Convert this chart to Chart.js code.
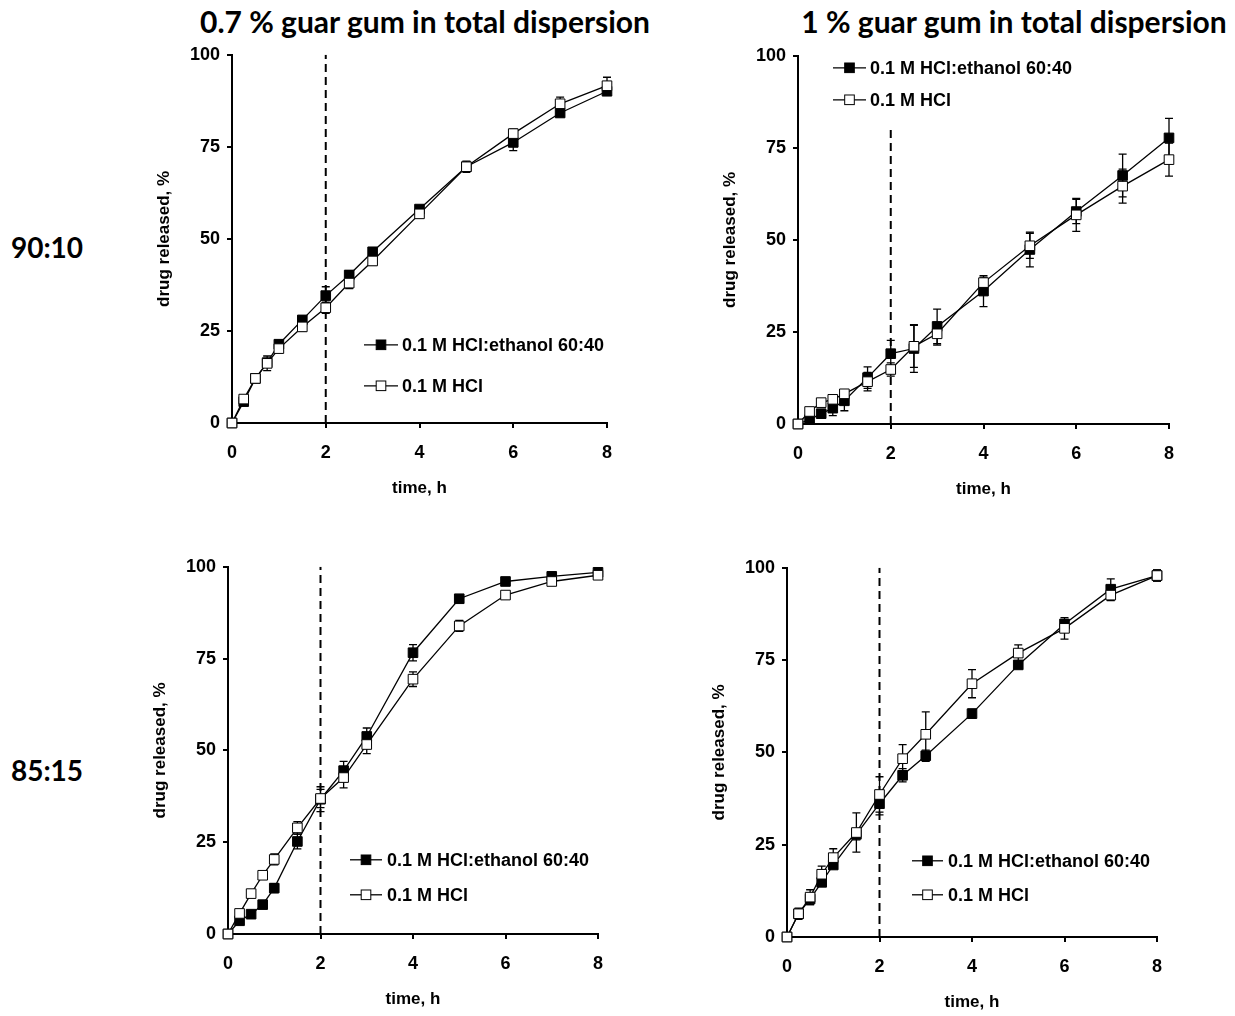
<!DOCTYPE html>
<html>
<head>
<meta charset="utf-8">
<script src="https://cdn.jsdelivr.net/npm/chart.js@4"></script>
<style>
  body { margin: 0; background: #fff; width: 1235px; height: 1016px; position: relative; overflow: hidden; }
  .painel { position: absolute; }
  .titulo { position: absolute; font-family: Lato, "Open Sans", sans-serif; font-weight: bold; font-size: 30px; color: #000; white-space: nowrap; transform: translate(-50%, -50%); }
  .linha { font-size: 28px; }
</style>
</head>
<body>
<div class="titulo" style="left:425px; top:21px;">0.7 % guar gum in total dispersion</div>
<div class="titulo" style="left:1014px; top:21px;">1 % guar gum in total dispersion</div>
<div class="titulo linha" style="left:47px; top:247px;">90:10</div>
<div class="titulo linha" style="left:47px; top:770px;">85:15</div>

<canvas id="gA" class="painel"></canvas>
<canvas id="gB" class="painel"></canvas>
<canvas id="gC" class="painel"></canvas>
<canvas id="gD" class="painel"></canvas>

<script>
// Dados (tempo em horas, liberação em %)
const tempoH = [0, 0.25, 0.5, 0.75, 1, 1.5, 2, 2.5, 3, 4, 5, 6, 7, 8];
const rotulos = ['0.1 M HCl:ethanol 60:40', '0.1 M HCl'];
const ticksX = [0, 2, 4, 6, 8];
const ticksY = [0, 25, 50, 75, 100];

// 0.7 % guar gum, 90:10
const a_etanol = [0, 5.8, 12.1, 16.4, 21.4, 28.0, 34.6, 40.2, 46.5, 58.1, 69.6, 76.2, 84.2, 90.1];
const a_etanolErro = [0, 0.5, 0.8, 1, 1, 1, 2.4, 1.2, 1, 0.8, 1, 2.2, 1, 1];
const a_hcl = [0, 6.5, 12.1, 16.2, 20.2, 26.1, 31.3, 38.0, 44.0, 56.8, 69.6, 78.6, 86.7, 91.6];
const a_hclErro = [0, 0.8, 1, 2, 1, 1.2, 1.5, 1.5, 1.2, 1, 1.5, 1.2, 1.8, 2.3];

// 1 % guar gum, 90:10
const b_etanol = [0, 1.2, 2.8, 4.3, 6.3, 12.6, 19.1, 20.5, 26.5, 36.1, 47.4, 57.7, 67.5, 77.7];
const b_etanolErro = [0, 0.8, 1, 2, 2.7, 2.9, 3.6, 6.5, 4.7, 4.2, 4.7, 3.3, 5.8, 5.3];
const b_hcl = [0, 3.4, 5.8, 6.7, 8.2, 11.5, 14.8, 21.1, 24.5, 38.4, 48.4, 56.8, 64.6, 71.8];
const b_hclErro = [0, 0.8, 0.8, 1, 1, 2.5, 1.8, 5.7, 3.1, 1.5, 3.4, 4.5, 4.6, 4.5];

// 0.7 % guar gum, 85:15
const c_etanol = [0, 3.6, 5.4, 8.0, 12.5, 25.2, 36.7, 44.5, 53.8, 76.6, 91.3, 96.0, 97.4, 98.5];
const c_etanolErro = [0, 0.8, 0.8, 0.8, 1.2, 2, 3.4, 2.5, 2.3, 2.2, 0.8, 0.8, 0.8, 0.8];
const c_hcl = [0, 5.6, 11.0, 16.0, 20.3, 28.9, 36.9, 42.6, 51.6, 69.4, 83.9, 92.3, 96.0, 97.7];
const c_hclErro = [0, 0.8, 0.8, 0.8, 1.5, 1.7, 2.5, 2.8, 2.5, 2, 1.5, 0.8, 0.8, 0.8];

// 1 % guar gum, 85:15
const d_etanol = [0, 6.3, 10.3, 14.8, 19.5, 27.8, 36.1, 43.8, 49.1, 60.5, 73.7, 84.8, 94.2, 97.9];
const d_etanolErro = [0, 1, 1.5, 1, 1, 1.5, 3, 1.8, 1.5, 1.2, 1, 1, 2.8, 1.5];
const d_hcl = [0, 6.3, 10.8, 17.0, 21.5, 28.3, 38.6, 48.3, 54.9, 68.6, 76.9, 83.6, 92.6, 97.9];
const d_hclErro = [0, 1.5, 2, 2.2, 2.4, 5.3, 4.8, 3.8, 6.1, 3.8, 2.2, 2.9, 1.5, 1.5];

// linha tracejada em t = 2 h (topo em %)
const tracejadoX = 2;
const tracejadoTopo = { gA: 100, gB: 81, gC: 100, gD: 100 };

// área do gráfico em pixels da página e posição da legenda (relativa à área)
const paineis = [
  { id: 'gA', area: [232, 52, 607, 423], leg: [132, 166, 170, 290, 331], etanol: a_etanol, etanolErro: a_etanolErro, hcl: a_hcl, hclErro: a_hclErro },
  { id: 'gB', area: [798, 53, 1169, 424], leg: [35, 68, 72, 12, 44], etanol: b_etanol, etanolErro: b_etanolErro, hcl: b_hcl, hclErro: b_hclErro },
  { id: 'gC', area: [228, 564, 598, 934], leg: [122, 154, 159, 293, 328], etanol: c_etanol, etanolErro: c_etanolErro, hcl: c_hcl, hclErro: c_hclErro },
  { id: 'gD', area: [787, 565, 1157, 937], leg: [125, 156, 161, 293, 327], etanol: d_etanol, etanolErro: d_etanolErro, hcl: d_hcl, hclErro: d_hclErro }
];

const EIXO_Y = 78, EIXO_X = 76, PAD_TOPO = 15, PAD_DIR = 20;
const FONTE = "'Liberation Sans', Arial, sans-serif";
const RAIO = 6.8;

function pontos(valores) {
  return tempoH.map((t, i) => ({ x: t, y: valores[i] }));
}

// barras de erro desenhadas pelas escalas
const barrasErro = {
  id: 'barrasErro',
  beforeDatasetsDraw(chart) {
    const ctx = chart.ctx;
    const sx = chart.scales.x, sy = chart.scales.y;
    ctx.save();
    ctx.strokeStyle = '#000';
    ctx.lineWidth = 1.3;
    chart.data.datasets.forEach(ds => {
      if (!ds.erros) return;
      ds.data.forEach((p, i) => {
        const e = ds.erros[i];
        if (!e) return;
        const x = sx.getPixelForValue(p.x);
        const y1 = sy.getPixelForValue(p.y + e);
        const y2 = sy.getPixelForValue(p.y - e);
        ctx.beginPath();
        ctx.moveTo(x, y1); ctx.lineTo(x, y2);
        ctx.moveTo(x - 4, y1); ctx.lineTo(x + 4, y1);
        ctx.moveTo(x - 4, y2); ctx.lineTo(x + 4, y2);
        ctx.stroke();
      });
    });
    ctx.restore();
  }
};

// legenda dentro da área do gráfico
const legendaInterna = {
  id: 'legendaInterna',
  afterDatasetsDraw(chart, args, opts) {
    const ctx = chart.ctx;
    const a = chart.chartArea;
    const [x1, x2, xt, ya, yb] = opts.pos;
    ctx.save();
    ctx.font = 'bold 18px ' + FONTE;
    ctx.textBaseline = 'middle';
    rotulos.forEach((rot, i) => {
      const ds = chart.data.datasets.find(d => d.label === rot);
      const y = a.top + (i === 0 ? ya : yb);
      const xm = a.left + (x1 + x2) / 2;
      ctx.strokeStyle = '#000';
      ctx.lineWidth = 1.3;
      ctx.beginPath();
      ctx.moveTo(a.left + x1, y); ctx.lineTo(a.left + x2, y);
      ctx.stroke();
      const s = RAIO * Math.SQRT1_2;
      ctx.lineWidth = 1;
      ctx.fillStyle = ds.pointBackgroundColor;
      ctx.fillRect(xm - s, y - s, 2 * s, 2 * s);
      ctx.strokeRect(xm - s, y - s, 2 * s, 2 * s);
      ctx.fillStyle = '#000';
      ctx.fillText(rot, a.left + xt, y + 1);
    });
    ctx.restore();
  }
};

function criarGrafico(p) {
  const [L, T, R, B] = p.area;
  const canvas = document.getElementById(p.id);
  const w = (R - L) + EIXO_Y + PAD_DIR;
  const h = (B - T) + PAD_TOPO + EIXO_X;
  canvas.style.left = (L - EIXO_Y) + 'px';
  canvas.style.top = (T - PAD_TOPO) + 'px';
  canvas.style.width = w + 'px';
  canvas.style.height = h + 'px';
  canvas.width = w;
  canvas.height = h;

  const serie = (label, valores, erros, fundo) => ({
    label: label,
    data: pontos(valores),
    erros: erros,
    showLine: true,
    clip: false,
    borderColor: '#000',
    borderWidth: 1.3,
    pointStyle: 'rect',
    pointRadius: RAIO,
    pointHoverRadius: RAIO,
    pointBorderWidth: 1,
    pointBorderColor: '#000',
    pointBackgroundColor: fundo,
    backgroundColor: fundo
  });

  new Chart(canvas, {
    type: 'scatter',
    data: {
      datasets: [
        serie(rotulos[1], p.hcl, p.hclErro, '#fff'),
        serie(rotulos[0], p.etanol, p.etanolErro, '#000'),
        {
          label: 'tracejado',
          data: [{ x: tracejadoX, y: 0 }, { x: tracejadoX, y: tracejadoTopo[p.id] }],
          showLine: true,
          borderColor: '#000',
          borderWidth: 2,
          borderDash: [8, 5],
          pointRadius: 0
        }
      ]
    },
    options: {
      responsive: false,
      animation: false,
      events: [],
      layout: { padding: { top: PAD_TOPO, right: PAD_DIR, left: 0, bottom: 0 } },
      plugins: {
        legend: { display: false },
        tooltip: { enabled: false },
        legendaInterna: { pos: p.leg }
      },
      scales: {
        x: {
          type: 'linear', min: 0, max: 8,
          afterFit: s => { s.height = EIXO_X; },
          afterBuildTicks: s => { s.ticks = ticksX.map(v => ({ value: v })); },
          border: { display: true, color: '#000', width: 2 },
          grid: { drawOnChartArea: false, drawTicks: true, tickLength: 5, color: '#000', lineWidth: 2 },
          ticks: { color: '#000', padding: 14, font: { family: FONTE, size: 18, weight: 'bold' } },
          title: { display: true, text: 'time, h', color: '#000', padding: 0, font: { family: FONTE, size: 17, weight: 'bold' } }
        },
        y: {
          type: 'linear', min: 0, max: 100,
          afterFit: s => { s.width = EIXO_Y; },
          afterBuildTicks: s => { s.ticks = ticksY.map(v => ({ value: v })); },
          border: { display: true, color: '#000', width: 2 },
          grid: { drawOnChartArea: false, drawTicks: true, tickLength: 5, color: '#000', lineWidth: 2 },
          ticks: { color: '#000', padding: 7, font: { family: FONTE, size: 18, weight: 'bold' } },
          title: { display: true, text: 'drug released, %', color: '#000', padding: 0, font: { family: FONTE, size: 17, weight: 'bold' } }
        }
      }
    },
    plugins: [barrasErro, legendaInterna]
  });
}

paineis.forEach(criarGrafico);
</script>
</body>
</html>
